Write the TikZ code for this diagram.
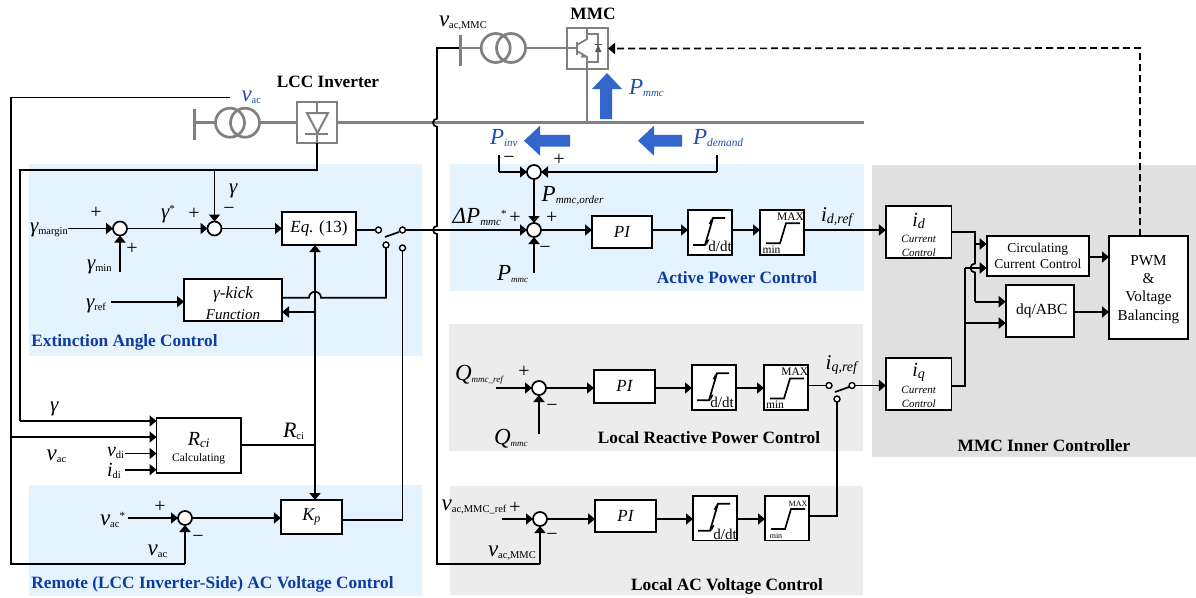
\documentclass[tikz,border=0pt]{standalone}
\usepackage{fontspec}
\setmainfont{Liberation Serif}
\usetikzlibrary{arrows.meta}
\definecolor{panelblue}{HTML}{E5F3FE}
\definecolor{panelgray}{HTML}{ECECEC}
\definecolor{innergray}{HTML}{E0E0E0}
\definecolor{titleblue}{HTML}{0E3C9E}
\definecolor{symblue}{HTML}{1F4FAE}
\definecolor{arrowblue}{HTML}{3366CC}
\definecolor{pgray}{HTML}{808080}
\newcommand{\fsz}[1]{\fontsize{#1}{#1}\selectfont}
% big italic symbol with regular subscript
\newcommand{\lr}[3][21]{{\fsz{#1}\itshape #2}\raisebox{-2pt}{\fsz{10.5}#3}}
% big italic symbol with italic subscript
\newcommand{\li}[4][23]{{\fsz{#1}\itshape #2}\raisebox{-2pt}{\fsz{#3}\itshape #4}}
\newcommand{\staru}{\raisebox{6pt}{\fsz{11}*}}
\tikzset{
  x=1pt,y=-1pt,
  wire/.style={line width=1.7pt,black},
  arr/.style={wire,-{Triangle[length=7pt,width=11pt]}},
  pw/.style={line width=2.7pt,pgray},
  pthin/.style={line width=1.8pt,pgray},
  boxn/.style={draw,line width=1.7pt,fill=white,inner sep=0pt,outer sep=0pt},
  sumn/.style={circle,draw,line width=1.7pt,fill=white,minimum size=14pt,inner sep=0pt,outer sep=0pt},
  cont/.style={circle,draw,line width=1.4pt,fill=white,minimum size=6pt,inner sep=0pt,outer sep=0pt},
  lbl/.style={inner sep=0pt,outer sep=0pt,anchor=base west},
  sgn/.style={inner sep=0pt,outer sep=0pt,font=\fsz{20}},
  ttl/.style={inner sep=0pt,outer sep=0pt,anchor=base,font=\fsz{17.3}\bfseries,black},
  ttb/.style={ttl,text=titleblue},
  txt/.style={inner sep=0pt,outer sep=0pt,align=center},
}
% name, cx, cy, text dx, text dy
\newcommand{\ratebox}[5]{%
  \node[boxn,minimum width=44pt,minimum height=44.7pt] (#1) at (#2,#3) {};
  \draw[wire] (#2-17,#3+12.7) -- (#2-5,#3+12.7) -- (#2+3,#3-14.3) -- (#2+15,#3-14.3);
  \fill (#2+2,#3-9) -- ++(-3.5,1) -- ++(3,-6) -- cycle;
  \fill (#2-4,#3+8) -- ++(3.5,-1) -- ++(-3,6) -- cycle;
  \node[txt,font=\fsz{15}] (#1t) at (#2+#4,#3+#5) {d/dt};
}
% name, cx, cy, font, MAX dx, MAX dy, min dx, min dy
\newcommand{\limbox}[8]{%
  \node[boxn,minimum width=44pt,minimum height=44.7pt] (#1) at (#2,#3) {};
  \draw[wire] (#2-16,#3+11) -- (#2-2,#3+11) -- (#2+4,#3-9) -- (#2+18,#3-9);
  \node[txt,font=\fsz{#4}] (#1a) at (#2+#5,#3+#6) {MAX};
  \node[txt,font=\fsz{#4}] (#1b) at (#2+#7,#3+#8) {min};
}
\begin{document}
\begin{tikzpicture}
\useasboundingbox (0,0) rectangle (1196,597);
\fill[white] (0,0) rectangle (1196,597);
% panels
\fill[panelblue] (29,164) rectangle (422,356);
\fill[panelblue] (29,485) rectangle (422,596);
\fill[panelblue] (450,164) rectangle (864,291);
\fill[panelgray] (449,324) rectangle (863,451);
\fill[panelgray] (450,486) rectangle (863,595);
\fill[innergray] (872,165) rectangle (1196,457);

% ---- power circuit
\draw[pw] (337,122.7) -- (864,122.7);
\draw[pw] (260,122.7) -- (297,122.7);
\draw[pw] (194,122.7) -- (215.5,122.7);
\draw[line width=3pt,pgray] (194,109) -- (194,140);
\draw[pw] (230,122.7) circle[radius=14.5];
\draw[pw] (245,122.7) circle[radius=14.5];
\node[draw=pgray,line width=2.5pt,minimum width=40pt,minimum height=41pt,inner sep=0pt,outer sep=0pt] (lcc) at (317,122.5) {};
\draw[pw,line width=2pt] (317,102) -- (317,113);
\draw[pw,line width=2pt] (317,133) -- (317,143);
\draw[pw,line width=2pt] (307,113) -- (328,113) -- (317.5,133) -- cycle;
\draw[pw,line width=2pt] (305,133.5) -- (328,133.5);

\draw[pw] (460,48) -- (481,48);
\draw[pw] (526,48) -- (567,48);
\draw[line width=3pt,pgray] (460,35) -- (460,66);
\draw[pw] (495.7,48) circle[radius=14.5];
\draw[pw] (511,48) circle[radius=14.5];
\node[draw=pgray,line width=2.5pt,minimum width=41pt,minimum height=41pt,inner sep=0pt,outer sep=0pt] (mmc) at (587.5,48.5) {};
\draw[pw,line width=2pt] (587,69) -- (587,122.7);
\draw[pthin] (577,48) -- (567,48);
\draw[pw,line width=2.2pt] (577,42) -- (577,55);
\draw[pthin] (587,28) -- (587,39) -- (577,45);
\draw[pthin] (577,51) -- (587,57) -- (587,69);
\draw[pthin] (587,34) -- (598,34) -- (598,62) -- (587,62);
\fill[pgray] (582,54.5) -- (586,57.5) -- (581,57.5) -- cycle;
\fill[black!65] (595,52) -- (601.5,52) -- (598.2,45) -- cycle;
\draw[line width=1.2pt,black!65] (595,44.5) -- (601.5,44.5);

% blue power arrows
\fill[arrowblue] (607,73) -- (622,89) -- (612,89) -- (612,119) -- (600,119) -- (600,89) -- (592,89) -- cycle;
\fill[arrowblue] (524,140.7) -- (540,125.7) -- (540,134.8) -- (570,134.8) -- (570,146.7) -- (540,146.7) -- (540,155.7) -- cycle;
\fill[arrowblue] (638,140.7) -- (654,125.7) -- (654,134.8) -- (682,134.8) -- (682,146.7) -- (654,146.7) -- (654,155.7) -- cycle;

% ---- boxes
\node[boxn,minimum width=74pt,minimum height=33pt,
  label={[txt,font=\fsz{17}]center:{\itshape Eq.} (13)}] (eq) at (319,228.5) {};
\node[boxn,minimum width=98pt,minimum height=41.7pt,
  label={[txt,yshift=-2.9pt,font=\fontsize{15}{21}\selectfont\itshape,text width=90pt]center:{\fsz{17}γ-kick}\\Function}] (kick) at (233,299.8) {};
\node[boxn,minimum width=84.5pt,minimum height=54.7pt,
  label={[txt,yshift=-2.7pt,text width=80pt,font=\fontsize{11.5}{16}\selectfont]center:{\fsz{20}\itshape R}\raisebox{-2pt}{\fsz{13}\itshape ci}\\Calculating}] (rci) at (198.7,445.3) {};
\node[boxn,minimum width=60.7pt,minimum height=34pt,
  label={[txt,font=\fsz{18}\itshape]center:K\raisebox{-2pt}{\fsz{12}\itshape p}}] (kp) at (311.3,517) {};

\node[boxn,minimum width=60pt,minimum height=32.3pt,label={[txt,font=\fsz{17}\itshape]center:PI}] (pi1) at (622,231.8) {};
\ratebox{rate1}{710}{232.3}{10}{14}
\limbox{lim1}{782}{232.3}{11.5}{8.5}{-16}{-10.5}{17}
\node[boxn,minimum width=61pt,minimum height=32.7pt,label={[txt,font=\fsz{17}\itshape]center:PI}] (pi2) at (624.5,386.3) {};
\ratebox{rate2}{714}{387.5}{8}{15}
\limbox{lim2}{786}{387.5}{11.5}{8.7}{-16}{-11}{17}
\node[boxn,minimum width=61pt,minimum height=32pt,label={[txt,font=\fsz{17}\itshape]center:PI}] (pi3) at (625.5,516) {};
\ratebox{rate3}{715}{518}{10}{16.5}
\limbox{lim3}{787}{518}{8}{11}{-14}{-11}{18}

\node[boxn,minimum width=65.5pt,minimum height=51.7pt,
  label={[txt,yshift=-3.2pt,text width=62pt,font=\fontsize{11}{14}\selectfont\itshape]center:{\fsz{20}i}\raisebox{-2pt}{\fsz{14}d}\\[2.7pt]Current\\Control}] (idb) at (918.7,231.8) {};
\node[boxn,minimum width=65.5pt,minimum height=52pt,
  label={[txt,yshift=-1.4pt,text width=62pt,font=\fontsize{11}{14}\selectfont\itshape]center:{\fsz{20}i}\raisebox{-2pt}{\fsz{14}q}\\[2.3pt]Current\\Control}] (iqb) at (918.7,384) {};
\node[boxn,minimum width=102.3pt,minimum height=40pt,
  label={[txt,text width=98pt,font=\fontsize{13.5}{16}\selectfont]center:Circulating\\Current Control}] (circ) at (1037.8,256) {};
\node[boxn,minimum width=68.3pt,minimum height=51.7pt,
  label={[txt,xshift=2pt,font=\fsz{15.4}]center:dq/ABC}] (dq) at (1039.8,310.8) {};
\node[boxn,minimum width=79pt,minimum height=103pt,
  label={[txt,yshift=-2pt,text width=76pt,font=\fontsize{15.2}{18.2}\selectfont]center:PWM\\\&\\Voltage\\Balancing}] (pwm) at (1148.5,287.5) {};

% ---- junctions
\node[sumn] (s1) at (120,228.5) {};
\node[sumn] (s2) at (214.5,228.5) {};
\node[sumn] (s3) at (185,518) {};
\node[sumn] (s4) at (534,172) {};
\node[sumn] (s5) at (534,230) {};
\node[sumn] (s6) at (539,388) {};
\node[sumn] (s7) at (540,519) {};

% ---- switch contacts
\node[cont] (c1) at (378.5,230) {};
\node[cont] (c2) at (402.5,230) {};
\node[cont] (c3) at (386,245) {};
\node[cont] (c4) at (402.5,248) {};
\node[cont] (c5) at (829,385.5) {};
\node[cont] (c6) at (852,385.5) {};
\node[cont] (c7) at (837,399) {};

% ---- free ends
\coordinate (vacend) at (230,97.5);
\coordinate (vactop) at (11,97.5);
\coordinate (vacbr) at (11,437);
\coordinate (vacbot) at (11,564);
\coordinate (vacin) at (185,564);
\coordinate (rin1) at (156.5,421);
\coordinate (rin2) at (156.5,437);
\coordinate (rin3) at (156.5,453.5);
\coordinate (rin4) at (156.5,469.7);
\coordinate (vdis) at (125,453.5);
\coordinate (idis) at (125,469.7);
\coordinate (gamR) at (317,170);
\coordinate (gamL) at (20,170);
\coordinate (gamD) at (20,421);
\coordinate (gamB) at (214.5,170);
\coordinate (gmar) at (68,228.5);
\coordinate (gmin) at (120,272);
\coordinate (gref) at (111,301.7);
\coordinate (kin) at (184,301.7);
\coordinate (vstar) at (128,518);

% ---- wires: left side
\draw[wire] (vacend) -- (vactop) -- (vacbot) -- (vacin);
\draw[arr] (vacin) -- (s3.south);
\draw[arr] (vacbr) -- (rin2);
\draw[wire] (lcc.south) -- (gamR) -- (gamL) -- (gamD);
\draw[arr] (gamD) -- (rin1);
\draw[arr] (gamB) -- (s2.north);
\draw[arr] (gmar) -- (s1.west);
\draw[arr] (gmin) -- (s1.south);
\draw[arr] (s1.east) -- (s2.west);
\draw[arr] (s2.east) -- (s2.east -| eq.west);
\draw[arr] (gref) -- (kin);
\draw[arr] (vdis) -- (rin3);
\draw[arr] (idis) -- (rin4);
\draw[arr] (vstar) -- (s3.west);
\draw[arr] (s3.east) -- (s3.east -| kp.west);

\coordinate (busx) at (315,445);
\coordinate (rout) at (241,445);
\draw[wire] (rout) -- (busx);
\draw[arr] (busx) -- (315,245);
\draw[arr] (busx) -- (315,500);
\draw[arr] (315,312) -- (282,312);
\coordinate (kout) at (282,297.7);
\draw[wire] (kout) -- (309,297.7) arc[start angle=180,end angle=360,radius=6] -- (386,297.7) -- (c3.south);
\coordinate (kpout) at (341.7,520);
\draw[wire] (kpout) -- (402.5,520) -- (c4.south);
\draw[wire] (356,230) -- (c1.west);
\draw[wire] (385,237) -- (399,232);
\draw[arr] (c2.east) -- (s5.west);

% ---- vac,MMC wire with hops
\coordinate (vm1) at (459,48);
\draw[wire] (vm1) -- (437,48) -- (437,118.7) arc[start angle=270,end angle=90,radius=4] -- (437,226) arc[start angle=270,end angle=90,radius=4] -- (437,564) -- (540,564);
\draw[arr] (540,564) -- (s7.south);

% ---- active power
\coordinate (pinvT) at (498.7,155);
\coordinate (pinvC) at (498.7,172);
\coordinate (pdemT) at (717,155);
\coordinate (pdemC) at (717,172);
\draw[wire] (pinvT) -- (pinvC);
\draw[arr] (pinvC) -- (s4.west);
\draw[wire] (pdemT) -- (pdemC);
\draw[arr] (pdemC) -- (s4.east);
\draw[arr] (s4.south) -- (s5.north);
\coordinate (pm) at (534,273);
\draw[arr] (pm) -- (s5.south);
\draw[arr] (s5.east) -- (s5.east -| pi1.west);
\draw[arr] (pi1.east |- s5.east) -- (s5.east -| rate1.west);
\draw[arr] (rate1.east |- s5.east) -- (s5.east -| lim1.west);
\coordinate (idin) at (885.9,230);
\draw[arr] (lim1.east |- idin) -- (idin);

% ---- reactive / AC voltage
\coordinate (qref) at (496,388);
\coordinate (qm) at (539,434);
\draw[arr] (qref) -- (s6.west);
\draw[arr] (qm) -- (s6.south);
\draw[arr] (s6.east) -- (s6.east -| pi2.west);
\draw[arr] (pi2.east |- s6.east) -- (s6.east -| rate2.west);
\draw[arr] (rate2.east |- s6.east) -- (s6.east -| lim2.west);
\draw[wire] (lim2.east |- c5.west) -- (c5.west);
\draw[wire] (835,392) -- (849,387);
\coordinate (iqin) at (885.9,385.5);
\draw[arr] (c6.east) -- (iqin);
\coordinate (vmr) at (502,519);
\draw[arr] (vmr) -- (s7.west);
\draw[arr] (s7.east) -- (s7.east -| pi3.west);
\draw[arr] (pi3.east |- s7.east) -- (s7.east -| rate3.west);
\draw[arr] (rate3.east |- s7.east) -- (s7.east -| lim3.west);
\coordinate (lim3o) at (809,516);
\draw[wire] (lim3o) -- (837,516) -- (c7.south);

% ---- inner controller
\coordinate (idout) at (951.5,232);
\coordinate (iqout) at (951.5,385.7);
\coordinate (circin1) at (986.7,244);
\coordinate (circin2) at (986.7,268);
\coordinate (dqin1) at (1005.7,301.7);
\coordinate (dqin2) at (1005.7,323);
\draw[wire] (idout) -- (975,232) -- (975,263.5) arc[start angle=270,end angle=90,radius=4.5] -- (975,301.7);
\draw[arr] (975,244) -- (circin1);
\draw[arr] (975,301.7) -- (dqin1);
\draw[wire] (iqout) -- (965,385.7) -- (965,268);
\draw[arr] (965,268) -- (circin2);
\draw[arr] (965,323) -- (dqin2);
\coordinate (pwm1) at (1109,257);
\coordinate (pwm2) at (1109,312);
\draw[arr] (circ.east |- pwm1) -- (pwm1);
\draw[arr] (dq.east |- pwm2) -- (pwm2);
\coordinate (dashs) at (1140,236);
\draw[wire,dash pattern=on 7pt off 4pt,-{Triangle[length=7pt,width=11pt]}] (dashs) -- (1140,48) -- (mmc.east);

% ---- titles
\node[ttl] (tLcc) at (328,87) {LCC Inverter};
\node[ttl] (tMmc) at (593,19) {MMC};
\node[ttb] (tExt) at (124.5,346.7) {Extinction Angle Control};
\node[ttb] (tRem) at (212.5,588) {Remote (LCC Inverter-Side) AC Voltage Control};
\node[ttb] (tAct) at (737,283) {Active Power Control};
\node[ttl] (tRea) at (709,443) {Local Reactive Power Control};
\node[ttl] (tLoc) at (727,590.7) {Local AC Voltage Control};
\node[ttl] (tInn) at (1044,451.7) {MMC Inner Controller};

% ---- symbols
\node[lbl,text=symblue] (lVac) at (241.5,101) {\lr[23]{v}{ac}};
\node[lbl] (lVm) at (439,26) {\lr[23]{v}{ac,MMC}};
\node[lbl,text=symblue] (lPm) at (629,94.5) {\li{P}{11}{mmc}};
\node[lbl,text=symblue] (lPi) at (490,144) {\li{P}{11}{inv}};
\node[lbl,text=symblue] (lPd) at (693,144) {\li{P}{11.4}{demand}};
\node[lbl] (lGm) at (30,232) {\lr{γ}{margin}};
\node[lbl] (lGn) at (87,269) {\lr{γ}{min}};
\node[lbl] (lGr) at (86,308) {\lr{γ}{ref}};
\node[lbl] (lGs) at (161,218) {{\fsz{21}\itshape γ}\staru};
\node[lbl] (lG1) at (229,193) {{\fsz{21}\itshape γ}};
\node[lbl] (lG2) at (50,411) {{\fsz{21}\itshape γ}};
\node[lbl] (lVa) at (46.7,460) {\lr[23]{v}{ac}};
\node[lbl] (lVd) at (107,456.7) {\lr[20]{v}{di}};
\node[lbl] (lId) at (107,476.5) {\lr[20]{i}{di}};
\node[lbl] (lRc) at (283,437) {\lr[22]{R}{ci}};
\node[lbl] (lVs) at (100,525) {\lr[23]{v}{ac}\staru};
\node[lbl] (lVb) at (147.7,555) {\lr[23]{v}{ac}};
\node[lbl] (lDp) at (452.7,223) {\li{ΔP}{11}{mmc}\staru};
\node[lbl] (lPo) at (541.7,201.7) {\li{P}{11}{mmc,order}};
\node[lbl] (lPb) at (497,280) {\li{P}{9}{mmc}};
\node[lbl] (lIdr) at (821,221) {\li[21]{i}{14}{d,ref}};
\node[lbl] (lQr) at (455,380) {\li{Q}{9}{mmc\_ref}};
\node[lbl] (lQm) at (494,444) {\li{Q}{9}{mmc}};
\node[lbl] (lIqr) at (825.7,369) {\li[21]{i}{14}{q,ref}};
\node[lbl] (lVr) at (441.7,510) {\lr[23]{v}{ac,MMC\_ref}};
\node[lbl] (lVl) at (488,556.7) {\lr[23]{v}{ac,MMC}};

% ---- signs
\node[sgn] (g1) at (96,213) {+};
\node[sgn] (g2) at (132,249) {+};
\node[sgn] (g3) at (194,214) {+};
\node[sgn] (g4) at (229,211) {−};
\node[sgn] (g5) at (160,507) {+};
\node[sgn] (g6) at (198,539) {−};
\node[sgn] (g7) at (509,160) {−};
\node[sgn] (g8) at (559,160) {+};
\node[sgn] (g9) at (515,217.7) {+};
\node[sgn] (g10) at (551.7,217.7) {+};
\node[sgn] (g11) at (545,250) {−};
\node[sgn] (g12) at (524,372) {+};
\node[sgn] (g13) at (552,408) {−};
\node[sgn] (g14) at (515,508) {+};
\node[sgn] (g15) at (552,537) {−};
\end{tikzpicture}
\end{document}
